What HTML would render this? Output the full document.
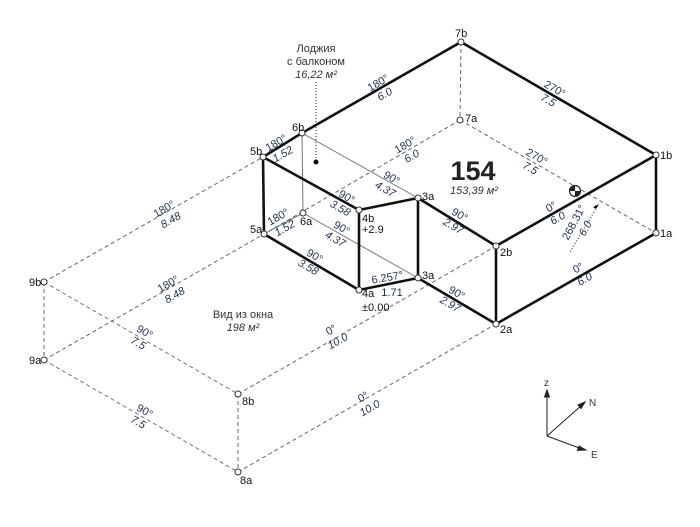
<!DOCTYPE html>
<html><head><meta charset="utf-8"><style>
html,body{margin:0;padding:0;background:#fff;width:700px;height:527px;overflow:hidden}
svg{display:block;font-family:"Liberation Sans","DejaVu Sans",sans-serif}
.n{fill:#fff;stroke:#333;stroke-width:1}
.k{stroke:#111;stroke-width:2.6;fill:none;stroke-linecap:round}
.t{stroke:#777;stroke-width:1;fill:none}
.d{stroke:#666;stroke-width:1;fill:none;stroke-dasharray:4,3}
.lb{font-size:11px;fill:#111}
.a{font-size:11px;fill:#223355;text-anchor:middle}
.l{font-size:11px;fill:#223355;text-anchor:middle;font-style:italic}
</style></head><body>
<svg width="700" height="527" viewBox="0 0 700 527">
<!-- dashed -->
<g class="d">
<line x1="461" y1="42" x2="460" y2="120"/>
<line x1="460" y1="120" x2="656" y2="233"/>
<line x1="460" y1="120" x2="264" y2="234"/>
<line x1="44" y1="282" x2="263" y2="157"/>
<line x1="44" y1="360" x2="264" y2="234"/>
<line x1="44" y1="282" x2="44" y2="360"/>
<line x1="44" y1="282" x2="238" y2="394"/>
<line x1="44" y1="360" x2="238" y2="472"/>
<line x1="238" y1="394" x2="238" y2="472"/>
<line x1="238" y1="394" x2="496" y2="246"/>
<line x1="238" y1="472" x2="496" y2="324"/>
</g>
<!-- thin -->
<line class="t" x1="302" y1="133" x2="303" y2="213" stroke="#aaa"/>
<line class="t" x1="302" y1="133" x2="418" y2="198"/>
<line class="t" x1="303" y1="213" x2="418" y2="278"/>
<line class="t" x1="264" y1="234" x2="303" y2="213"/>
<line x1="316" y1="82" x2="316" y2="160" stroke="#222" stroke-dasharray="1,2"/>
<circle cx="316" cy="162" r="2.5" fill="#111"/>
<line x1="597" y1="207" x2="570" y2="252" stroke="#222" stroke-dasharray="1,2"/>
<path d="M599,204 l-6,3 l3,2z" fill="#111"/>
<!-- thick -->
<g class="k">
<line x1="461" y1="42" x2="656" y2="155"/>
<line x1="461" y1="42" x2="302" y2="133"/>
<line x1="302" y1="133" x2="263" y2="157"/>
<line x1="263" y1="157" x2="264" y2="234"/>
<line x1="263" y1="157" x2="359" y2="210"/>
<line x1="359" y1="210" x2="418" y2="198"/>
<line x1="359" y1="210" x2="359" y2="290"/>
<line x1="359" y1="290" x2="418" y2="278"/>
<line x1="418" y1="198" x2="418" y2="278"/>
<line x1="418" y1="198" x2="496" y2="246"/>
<line x1="418" y1="278" x2="496" y2="324"/>
<line x1="496" y1="246" x2="496" y2="324"/>
<line x1="496" y1="246" x2="656" y2="155"/>
<line x1="656" y1="155" x2="656" y2="233"/>
<line x1="496" y1="324" x2="656" y2="233"/>
<line x1="264" y1="234" x2="359" y2="290"/>
</g>
<!-- nodes -->
<g class="n">
<circle cx="461" cy="42" r="3"/><circle cx="460" cy="120" r="3"/>
<circle cx="656" cy="155" r="3"/><circle cx="656" cy="233" r="3"/>
<circle cx="496" cy="246" r="3"/><circle cx="496" cy="324" r="3"/>
<circle cx="418" cy="198" r="3"/><circle cx="418" cy="278" r="3"/>
<circle cx="359" cy="210" r="3"/><circle cx="359" cy="290" r="3"/>
<circle cx="263" cy="157" r="3"/><circle cx="264" cy="234" r="3"/>
<circle cx="302" cy="133" r="3"/><circle cx="303" cy="213" r="3"/>
<circle cx="44" cy="282" r="3"/><circle cx="44" cy="360" r="3"/>
<circle cx="238" cy="394" r="3"/><circle cx="238" cy="472" r="3"/>
</g>
<g class="lb">
<text x="455" y="37">7b</text><text x="465" y="122">7a</text>
<text x="660" y="159">1b</text><text x="660" y="237">1a</text>
<text x="500" y="256">2b</text><text x="500" y="333">2a</text>
<text x="422" y="200">3a</text><text x="422" y="279">3a</text>
<text x="362" y="222">4b</text><text x="362" y="233">+2.9</text>
<text x="362" y="297">4a</text><text x="362" y="311">±0.00</text>
<text x="250" y="155">5b</text><text x="250" y="233">5a</text>
<text x="292" y="131">6b</text><text x="300" y="225">6a</text>
<text x="29" y="286">9b</text><text x="29" y="364">9a</text>
<text x="242" y="405">8b</text><text x="240" y="484">8a</text>
</g>
<!-- edge labels -->
<g transform="translate(380,86) rotate(-30)"><text class="a">180°</text><text class="l" y="13">6.0</text></g>
<g transform="translate(553,92) rotate(30)"><text class="a">270°</text><text class="l" y="13">7.5</text></g>
<g transform="translate(407,148) rotate(-30)"><text class="a">180°</text><text class="l" y="13">6.0</text></g>
<g transform="translate(535,160) rotate(30)"><text class="a">270°</text><text class="l" y="13">7.5</text></g>
<g transform="translate(278,146) rotate(-30)"><text class="a">180°</text><text class="l" y="13">1.52</text></g>
<g transform="translate(390,181) rotate(30)"><text class="a">90°</text><text class="l" y="13">4.37</text></g>
<g transform="translate(345,200) rotate(30)"><text class="a">90°</text><text class="l" y="13">3.58</text></g>
<g transform="translate(280,220) rotate(-30)"><text class="a">180°</text><text class="l" y="13">1.52</text></g>
<g transform="translate(340,231) rotate(30)"><text class="a">90°</text><text class="l" y="13">4.37</text></g>
<g transform="translate(313,259) rotate(30)"><text class="a">90°</text><text class="l" y="13">3.58</text></g>
<g transform="translate(388,281) rotate(-10)"><text class="a">6.257°</text></g>
<text class="l" x="392" y="296" style="font-style:normal">1.71</text>
<g transform="translate(458,218) rotate(30)"><text class="a">90°</text><text class="l" y="13">2.97</text></g>
<g transform="translate(455,296) rotate(30)"><text class="a">90°</text><text class="l" y="13">2.97</text></g>
<g transform="translate(553,210) rotate(-30)"><text class="a">0°</text><text class="l" y="13">6.0</text></g>
<g transform="translate(580,271) rotate(-30)"><text class="a">0°</text><text class="l" y="13">6.0</text></g>
<g transform="translate(577,224) rotate(-62)"><text class="a">268.31°</text><text class="l" y="13">6.0</text></g>
<g transform="translate(166,212) rotate(-30)"><text class="a">180°</text><text class="l" y="13">8.48</text></g>
<g transform="translate(170,287) rotate(-30)"><text class="a">180°</text><text class="l" y="13">8.48</text></g>
<g transform="translate(143,335) rotate(30)"><text class="a">90°</text><text class="l" y="13">7.5</text></g>
<g transform="translate(143,414) rotate(30)"><text class="a">90°</text><text class="l" y="13">7.5</text></g>
<g transform="translate(333,333) rotate(-30)"><text class="a">0°</text><text class="l" y="13">10.0</text></g>
<g transform="translate(365,400) rotate(-30)"><text class="a">0°</text><text class="l" y="13">10.0</text></g>
<!-- area labels -->
<text x="243" y="318" font-size="11" fill="#333" text-anchor="middle">Вид из окна</text>
<text x="243" y="331" font-size="11" fill="#333" text-anchor="middle" font-style="italic">198 м²</text>
<text x="473" y="180" font-size="27" font-weight="bold" fill="#222" text-anchor="middle">154</text>
<text x="474" y="194" font-size="11" fill="#333" text-anchor="middle" font-style="italic">153,39 м²</text>
<text x="316" y="52" font-size="11" fill="#333" text-anchor="middle">Лоджия</text>
<text x="316" y="65" font-size="11" fill="#333" text-anchor="middle">с балконом</text>
<text x="316" y="78" font-size="11" fill="#333" text-anchor="middle" font-style="italic">16,22 м²</text>
<!-- sun symbol -->
<circle cx="575" cy="191" r="5.5" fill="#fff" stroke="#222" stroke-width="1.2"/>
<path d="M575,191 L575,185.5 A5.5,5.5 0 0 0 569.5,191Z M575,191 L575,196.5 A5.5,5.5 0 0 0 580.5,191Z" fill="#222"/>
<!-- compass -->
<g stroke="#222" stroke-width="1" fill="#222">
<line x1="547" y1="436" x2="547" y2="394"/><path d="M547,390 l-2.5,7 h5z"/>
<line x1="547" y1="436" x2="582" y2="405"/><path d="M585,402 l-7,3 l3,3.5z"/>
<line x1="547" y1="436" x2="582" y2="449"/><path d="M586,450 l-7,-4 l-1.5,4.5z"/>
</g>
<text x="544" y="386" font-size="10" fill="#333">z</text>
<text x="589" y="406" font-size="10" fill="#333">N</text>
<text x="591" y="458" font-size="10" fill="#333">E</text>
</svg>
</body></html>
